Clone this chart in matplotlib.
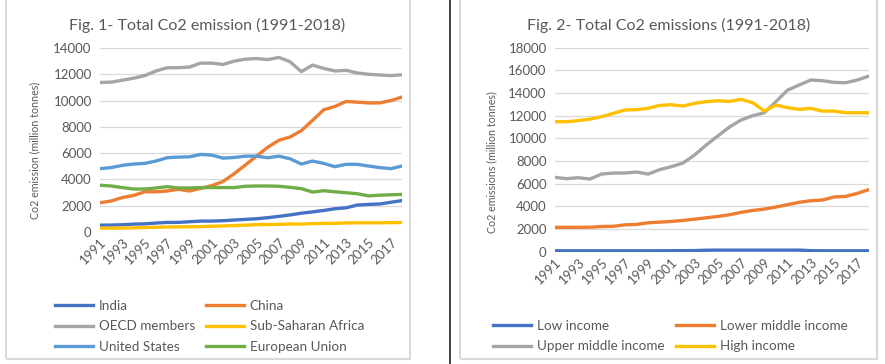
import matplotlib
matplotlib.use("Agg")
import matplotlib.pyplot as plt
from matplotlib.patches import Rectangle
from matplotlib.lines import Line2D

plt.rcParams['font.family'] = ['Lato', 'DejaVu Sans']

years = list(range(1991, 2019))
tick_years = list(range(1991, 2018, 2))

# Fig. 1 data (million tonnes)
india = [520, 530, 550, 600, 620, 680, 730, 730, 780, 830, 830, 860, 910, 960,
         1010, 1090, 1190, 1300, 1430, 1530, 1640, 1770, 1840, 2050, 2100, 2130, 2260, 2390]
china = [2230, 2360, 2620, 2780, 3060, 3060, 3120, 3250, 3120, 3320, 3530, 3840, 4440, 5100,
         5780, 6450, 6980, 7230, 7710, 8490, 9300, 9550, 9930, 9880, 9820, 9820, 10000, 10270]
oecd = [11380, 11400, 11550, 11700, 11900, 12250, 12500, 12500, 12550, 12850, 12850, 12750,
        13000, 13150, 13200, 13120, 13280, 12950, 12200, 12700, 12450, 12250, 12300, 12100,
        12000, 11950, 11900, 11960]
ssa = [290, 290, 300, 310, 340, 360, 380, 390, 400, 410, 440, 460, 490, 520,
       560, 570, 580, 610, 600, 640, 650, 660, 690, 700, 700, 700, 710, 730]
usa = [4820, 4900, 5070, 5170, 5220, 5400, 5650, 5700, 5720, 5900, 5850, 5620, 5670, 5770,
       5770, 5650, 5770, 5570, 5170, 5400, 5220, 4970, 5150, 5150, 5020, 4900, 4820, 5020]
eu = [3560, 3500, 3380, 3270, 3270, 3350, 3450, 3350, 3350, 3380, 3380, 3380, 3380, 3480,
      3500, 3500, 3480, 3400, 3300, 3040, 3140, 3060, 2990, 2910, 2750, 2800, 2830, 2860]

# Fig. 2 data (million tonnes)
low_inc = [80, 80, 80, 80, 80, 80, 80, 80, 80, 80, 90, 90, 100, 130,
           140, 140, 140, 140, 140, 140, 140, 140, 90, 80, 80, 80, 80, 80]
lower_mid = [2150, 2150, 2150, 2160, 2220, 2240, 2370, 2400, 2550, 2610, 2670, 2760, 2870, 2990,
             3110, 3260, 3470, 3640, 3760, 3940, 4150, 4360, 4500, 4560, 4830, 4880, 5150, 5480]
upper_mid = [6560, 6440, 6530, 6410, 6850, 6940, 6940, 7030, 6850, 7240, 7500, 7820, 8530, 9410,
             10210, 11000, 11620, 12000, 12260, 13240, 14260, 14710, 15150, 15090, 14940, 14910,
             15150, 15500]
high_inc = [11470, 11470, 11560, 11700, 11910, 12200, 12500, 12530, 12650, 12910, 12970, 12850,
            13090, 13240, 13320, 13260, 13440, 13150, 12410, 12940, 12710, 12560, 12650, 12410,
            12410, 12260, 12260, 12260]

C_BLUE = '#4472C4'
C_ORANGE = '#ED7D31'
C_GRAY = '#A5A5A5'
C_YELLOW = '#FFC000'
C_LBLUE = '#5B9BD5'
C_GREEN = '#70AD47'
TXT = '#595959'
GRID = '#D9D9D9'

W, H = 885, 364
fig = plt.figure(figsize=(W / 100, H / 100), dpi=100)

def fx(px):
    return px / W

def fy(py):
    return 1 - py / H

# panel borders
fig.patches.append(Rectangle((fx(6), fy(359)), fx(404), fy(-5) - fy(359),
                             transform=fig.transFigure, fill=False, ec=GRID, lw=1.5))
fig.patches.append(Rectangle((fx(460), fy(359)), fx(417), fy(-5) - fy(359),
                             transform=fig.transFigure, fill=False, ec=GRID, lw=1.5))
fig.lines.append(Line2D([fx(450), fx(450)], [0, 1], transform=fig.transFigure,
                        color='#222222', lw=1.2))


def setup(ax, ymax, step):
    ax.set_xlim(1991, 2018)
    ax.set_ylim(0, ymax)
    ax.set_yticks(range(0, ymax + 1, step))
    ax.set_xticks(tick_years)
    ax.set_xticklabels([str(y) for y in tick_years], rotation=45, ha='right',
                       rotation_mode='anchor')
    ax.grid(axis='y', color=GRID, lw=0.9)
    ax.set_axisbelow(True)
    for s in ax.spines.values():
        s.set_visible(False)
    ax.tick_params(length=0, colors=TXT, labelsize=9.5)
    ax.tick_params(axis='y', pad=6)
    ax.tick_params(axis='x', pad=3)


leg_kw = dict(ncol=2, loc='upper left', frameon=False, fontsize=9.7, labelcolor=TXT,
              handlelength=2.8, handletextpad=0.45, labelspacing=0.62,
              borderaxespad=0, borderpad=0)

# Left chart
ax1 = fig.add_axes([fx(100), fy(232), fx(302), fy(48) - fy(232)])
setup(ax1, 14000, 2000)
lw = 2.4
h_india, = ax1.plot(years, india, color=C_BLUE, lw=lw, label='India')
h_china, = ax1.plot(years, china, color=C_ORANGE, lw=lw, label='China')
h_oecd, = ax1.plot(years, oecd, color=C_GRAY, lw=lw, label='OECD members')
h_ssa, = ax1.plot(years, ssa, color=C_YELLOW, lw=lw, label='Sub-Saharan Africa')
h_us, = ax1.plot(years, usa, color=C_LBLUE, lw=lw, label='United States')
h_eu, = ax1.plot(years, eu, color=C_GREEN, lw=lw, label='European Union')
fig.text(fx(207), fy(25), 'Fig. 1- Total Co2 emission (1991-2018)', ha='center',
         va='center', fontsize=11.5, color=TXT)
fig.text(fx(35), fy(150), 'Co2 emission (million tonnes)', rotation=90, ha='center',
         va='center', fontsize=7.7, color=TXT)
fig.legend(handles=[h_india, h_oecd, h_us, h_china, h_ssa, h_eu],
           bbox_to_anchor=(fx(55), fy(300)), columnspacing=0.8, **leg_kw)

# Right chart
ax2 = fig.add_axes([fx(555), fy(251.7), fx(314), fy(47.7) - fy(251.7)])
setup(ax2, 18000, 2000)
h_low, = ax2.plot(years, low_inc, color=C_BLUE, lw=lw, label='Low income')
h_lm, = ax2.plot(years, lower_mid, color=C_ORANGE, lw=lw, label='Lower middle income')
h_um, = ax2.plot(years, upper_mid, color=C_GRAY, lw=lw, label='Upper middle income')
h_hi, = ax2.plot(years, high_inc, color=C_YELLOW, lw=lw, label='High income')
fig.text(fx(669), fy(25), 'Fig. 2- Total Co2 emissions (1991-2018)', ha='center',
         va='center', fontsize=11.5, color=TXT)
fig.text(fx(492), fy(162), 'Co2 emissions (million tonnes)', rotation=90, ha='center',
         va='center', fontsize=7.7, color=TXT)
fig.legend(handles=[h_low, h_um, h_lm, h_hi],
           bbox_to_anchor=(fx(493), fy(320)), columnspacing=0.85, **leg_kw)

fig.savefig('out.png', dpi=100, facecolor='white')
